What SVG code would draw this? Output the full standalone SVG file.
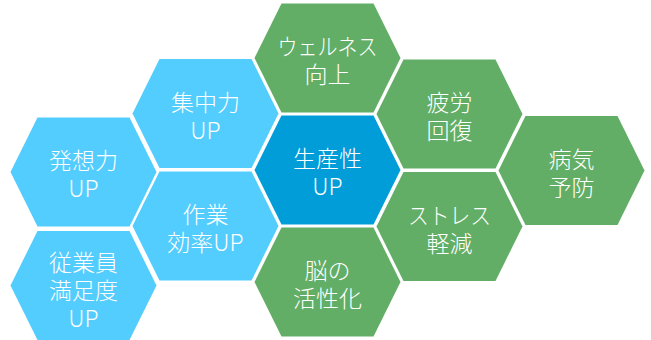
<svg xmlns="http://www.w3.org/2000/svg" xmlns:xlink="http://www.w3.org/1999/xlink" width="651" height="340" viewBox="0 0 651 340">
  <style>
    .lb { fill: #53CCFE; }
    .db { fill: #009DD9; }
    .gr { fill: #62AE66; }
    text { font-family: "Noto Sans CJK JP", "Noto Sans", sans-serif; font-size: 23px; font-weight: 300; fill: #FFFFFF; text-anchor: middle; }
  </style>
  <defs>
    <polygon id="hex" points="-73,0 -46,-54.5 46,-54.5 73,0 46,54.5 -46,54.5"/>
  </defs>
  <rect width="651" height="340" fill="#FFFFFF"/>
  <g id="connectors"/>
  <g id="hassou" transform="translate(83.5,172)">
    <use xlink:href="#hex" class="lb"/>
    <text y="-3">発想力</text><text y="25">UP</text>
  </g>
  <g id="juugyouin" transform="translate(83.5,285.5)">
    <use xlink:href="#hex" class="lb"/>
    <text y="-15">従業員</text><text y="13">満足度</text><text y="41">UP</text>
  </g>
  <g id="shuuchuu" transform="translate(205.5,113.5)">
    <use xlink:href="#hex" class="lb"/>
    <text y="-3">集中力</text><text y="25">UP</text>
  </g>
  <g id="sagyou" transform="translate(205.5,226)">
    <use xlink:href="#hex" class="lb"/>
    <text y="-3">作業</text><text y="25">効率UP</text>
  </g>
  <g id="wellness" transform="translate(327.5,58)">
    <use xlink:href="#hex" class="gr"/>
    <text y="-3" textLength="100" lengthAdjust="spacingAndGlyphs">ウェルネス</text><text y="25">向上</text>
  </g>
  <g id="seisansei" transform="translate(327.5,170)">
    <use xlink:href="#hex" class="db"/>
    <text y="-3">生産性</text><text y="25">UP</text>
  </g>
  <g id="nou" transform="translate(327.5,282)">
    <use xlink:href="#hex" class="gr"/>
    <text y="-3">脳の</text><text y="25">活性化</text>
  </g>
  <g id="hirou" transform="translate(449.5,114)">
    <use xlink:href="#hex" class="gr"/>
    <text y="-3">疲労</text><text y="25">回復</text>
  </g>
  <g id="stress" transform="translate(449.5,226.5)">
    <use xlink:href="#hex" class="gr"/>
    <text y="-3" textLength="83" lengthAdjust="spacingAndGlyphs">ストレス</text><text y="25">軽減</text>
  </g>
  <g id="byouki" transform="translate(571.5,170.5)">
    <use xlink:href="#hex" class="gr"/>
    <text y="-3">病気</text><text y="25">予防</text>
  </g>
</svg>
